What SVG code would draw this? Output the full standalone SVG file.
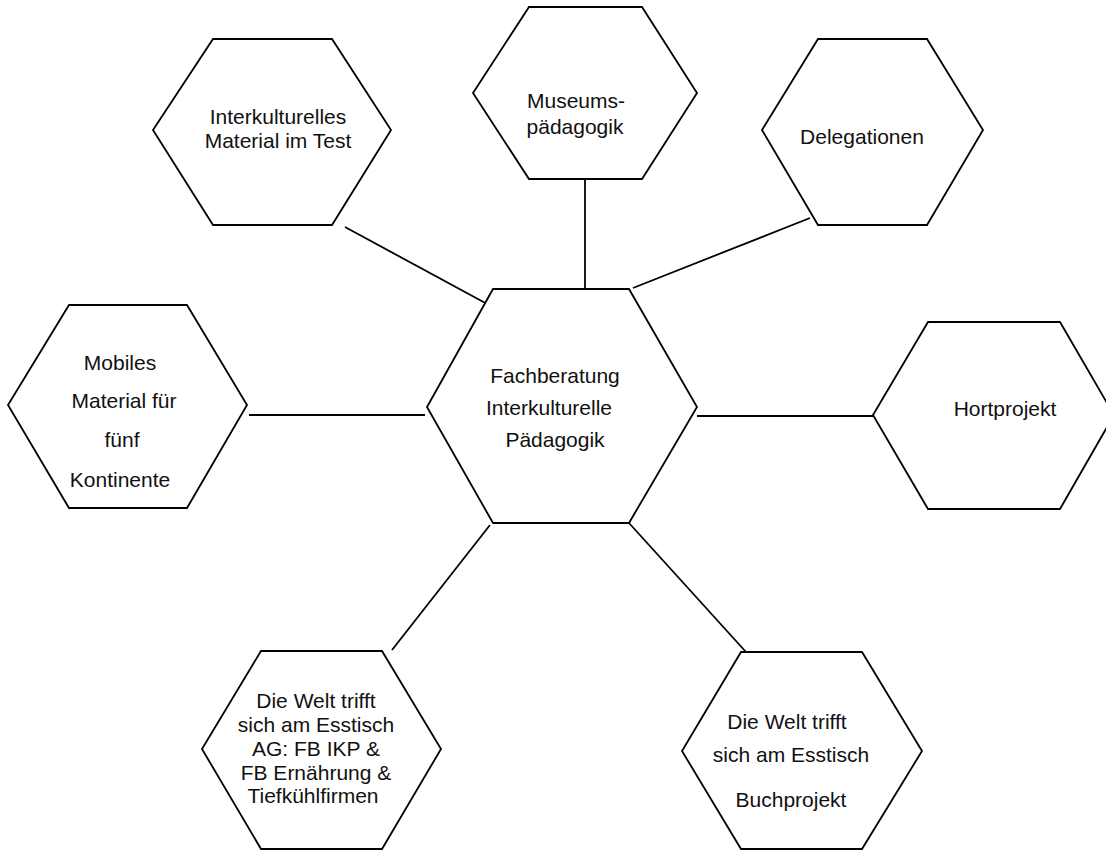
<svg xmlns="http://www.w3.org/2000/svg" width="1106" height="854" viewBox="0 0 1106 854">
<style>
.hex{fill:#fff;stroke:#000;stroke-width:1.8;stroke-linejoin:miter}
.con line{stroke:#000;stroke-width:1.8}
text{font-family:"Liberation Sans",Arial,sans-serif;font-size:21px;fill:#111;text-anchor:middle}
</style>
<rect width="1106" height="854" fill="#fff"/>
<g id="connectors" class="con">
<line x1="345" y1="227" x2="489" y2="305"/>
<line x1="585" y1="179" x2="585" y2="289"/>
<line x1="810" y1="218" x2="633" y2="288"/>
<line x1="249" y1="415" x2="425" y2="415"/>
<line x1="697" y1="416" x2="873" y2="416"/>
<line x1="392" y1="650" x2="490" y2="525"/>
<line x1="629" y1="523" x2="746" y2="652"/>
</g>
<g id="center">
<polygon class="hex" points="493,289 629,289 697,407 629,523 493,523 427,407"/>
<text x="555" y="383">Fachberatung</text>
<text x="549" y="415">Interkulturelle</text>
<text x="555" y="447">Pädagogik</text>
</g>
<g id="interkulturelles">
<polygon class="hex" points="213,39 332,39 391,130 332,225 213,225 153,130"/>
<text x="278" y="124">Interkulturelles</text>
<text x="278" y="148">Material im Test</text>
</g>
<g id="museum">
<polygon class="hex" points="529,7 642,7 697,93 642,179 529,179 473,93"/>
<text x="576" y="108">Museums-</text>
<text x="575" y="134">pädagogik</text>
</g>
<g id="delegationen">
<polygon class="hex" points="818,39 927,39 983,130 927,225 818,225 762,130"/>
<text x="862" y="144">Delegationen</text>
</g>
<g id="mobiles">
<polygon class="hex" points="69,305 187,305 247,405 187,508 69,508 8,405"/>
<text x="120" y="370">Mobiles</text>
<text x="124" y="408">Material für</text>
<text x="122" y="447">fünf</text>
<text x="120" y="487">Kontinente</text>
</g>
<g id="hortprojekt">
<polygon class="hex" points="928,322 1060,322 1114,415 1060,509 928,509 873,415"/>
<text x="1005" y="416">Hortprojekt</text>
</g>
<g id="esstisch-ag">
<polygon class="hex" points="261,651 382,651 441,749 382,849 261,849 202,749"/>
<text x="316" y="708">Die Welt trifft</text>
<text x="316" y="732">sich am Esstisch</text>
<text x="316" y="756">AG: FB IKP &amp;</text>
<text x="316" y="780">FB Ernährung &amp;</text>
<text x="313" y="803">Tiefkühlfirmen</text>
</g>
<g id="esstisch-buch">
<polygon class="hex" points="741,652 862,652 922,751 862,849 741,849 682,751"/>
<text x="787" y="729">Die Welt trifft</text>
<text x="791" y="762">sich am Esstisch</text>
<text x="791" y="807">Buchprojekt</text>
</g>
</svg>
